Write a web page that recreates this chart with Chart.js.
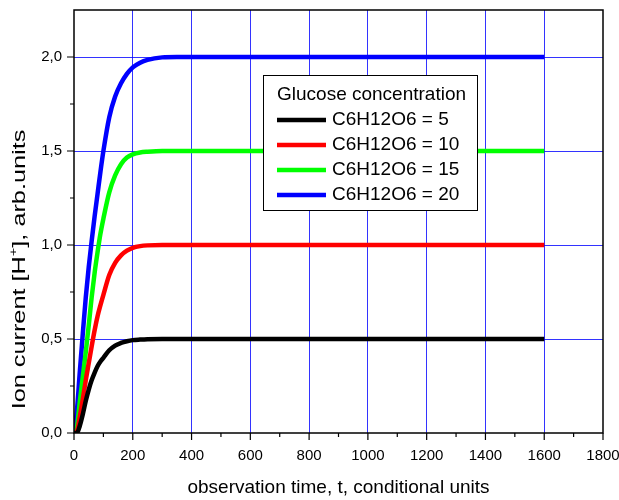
<!DOCTYPE html>
<html>
<head>
<meta charset="utf-8">
<script src="https://cdn.jsdelivr.net/npm/chart.js@4.4.1/dist/chart.umd.min.js"></script>
<style>
  html, body { margin:0; padding:0; background:#fff; }
  #wrap { width:619px; height:500px; }
</style>
</head>
<body>
<div id="wrap"><canvas id="chart-glucose"></canvas></div>
<script>
// ─── Data ─────────────────────────────────────────────────────────────────────
const TIME = [0, 10, 20, 30, 40, 50, 60, 70, 80, 90, 100, 120, 140, 160, 180, 200, 225, 250, 300, 350, 400, 500, 600, 800, 1000, 1200, 1400, 1600];

const C5  = [0, 0.00, 0.04, 0.10, 0.17, 0.23, 0.28, 0.32, 0.355, 0.38, 0.40, 0.44, 0.465, 0.479, 0.488, 0.494, 0.497, 0.499, 0.5, 0.5, 0.5, 0.5, 0.5, 0.5, 0.5, 0.5, 0.5, 0.5];
const C10 = [0, 0.01, 0.09, 0.18, 0.28, 0.37, 0.46, 0.545, 0.62, 0.68, 0.735, 0.84, 0.905, 0.945, 0.97, 0.985, 0.994, 0.998, 1.0, 1.0, 1.0, 1.0, 1.0, 1.0, 1.0, 1.0, 1.0, 1.0];
const C15 = [0, 0.03, 0.17, 0.30, 0.43, 0.57, 0.72, 0.85, 0.96, 1.06, 1.14, 1.28, 1.37, 1.43, 1.465, 1.482, 1.492, 1.496, 1.5, 1.5, 1.5, 1.5, 1.5, 1.5, 1.5, 1.5, 1.5, 1.5];
const C20 = [0, 0.12, 0.33, 0.53, 0.72, 0.88, 1.02, 1.15, 1.27, 1.39, 1.50, 1.68, 1.79, 1.86, 1.91, 1.945, 1.97, 1.985, 1.998, 2.0, 2.0, 2.0, 2.0, 2.0, 2.0, 2.0, 2.0, 2.0];

const SERIES_LABELS = ['C6H12O6 = 5', 'C6H12O6 = 10', 'C6H12O6 = 15', 'C6H12O6 = 20'];
const SERIES_VALUES = [C5, C10, C15, C20];
const SERIES_COLORS = ['#000000', '#ff0000', '#00ff00', '#0000ff'];
const LEGEND_TITLE = 'Glucose concentration';
const X_TITLE = 'observation time, t, conditional units';
const Y_TITLE = ['Ion current [H', '+', '], arb.units'];

const X_MIN = 0, X_MAX = 1800, X_STEP = 100, X_LABEL_STEP = 200;
const Y_MIN = 0, Y_MAX = 2.25, Y_STEP = 0.25, Y_LABEL_STEP = 0.5;

// ─── Style ────────────────────────────────────────────────────────────────────
const FONT = "'Liberation Sans', Arial, sans-serif";
const GRID_BLUE = 'rgba(0,0,255,0.8)';

// frame round the plot plus outward tick marks (long = labelled, short = minor)
const frameTicks = {
  id: 'frameTicks',
  afterDraw(chart) {
    const { ctx, chartArea: a, scales: { x, y } } = chart;
    ctx.save();
    ctx.strokeStyle = '#000';
    ctx.lineWidth = 1.5;
    ctx.strokeRect(a.left, a.top, a.right - a.left, a.bottom - a.top);
    ctx.lineWidth = 1.2;
    ctx.beginPath();
    x.ticks.forEach(t => {
      const px = x.getPixelForValue(t.value);
      const len = t.value % X_LABEL_STEP === 0 ? 7 : 4;
      ctx.moveTo(px, a.bottom); ctx.lineTo(px, a.bottom + len);
    });
    y.ticks.forEach(t => {
      if (t.value >= Y_MAX) return;
      const py = y.getPixelForValue(t.value);
      const len = t.value % Y_LABEL_STEP === 0 ? 7 : 4;
      ctx.moveTo(a.left, py); ctx.lineTo(a.left - len, py);
    });
    ctx.stroke();
    ctx.restore();
  }
};

// rotated y title, stretched along its length, with a raised "+"
const yTitle = {
  id: 'yTitle',
  afterDraw(chart) {
    const { ctx, chartArea: a } = chart;
    const [pre, sup, post] = Y_TITLE;
    ctx.save();
    ctx.translate(20, (a.top + a.bottom) / 2 + 48);
    ctx.rotate(-Math.PI / 2);
    ctx.scale(1.33, 1);
    ctx.fillStyle = '#000';
    ctx.textBaseline = 'middle';
    ctx.font = `19px ${FONT}`;
    const w1 = ctx.measureText(pre).width;
    const w3 = ctx.measureText(post).width;
    ctx.font = `11px ${FONT}`;
    const w2 = ctx.measureText(sup).width;
    let x0 = -(w1 + w2 + w3) / 2;
    ctx.font = `19px ${FONT}`;
    ctx.fillText(pre, x0, 0);
    ctx.font = `11px ${FONT}`;
    ctx.fillText(sup, x0 + w1, -6);
    ctx.font = `19px ${FONT}`;
    ctx.fillText(post, x0 + w1 + w2, 0);
    ctx.restore();
  }
};

// boxed legend sitting inside the plot area
const insideLegend = {
  id: 'insideLegend',
  afterDraw(chart) {
    const { ctx, chartArea: a } = chart;
    const bx = a.left + 189, by = a.top + 65, bw = 214, bh = 135;
    ctx.save();
    ctx.fillStyle = '#fff';
    ctx.fillRect(bx, by, bw, bh);
    ctx.strokeStyle = '#000';
    ctx.lineWidth = 1;
    ctx.strokeRect(bx + 0.5, by + 0.5, bw, bh);
    ctx.font = `19px ${FONT}`;
    ctx.fillStyle = '#000';
    ctx.textBaseline = 'middle';
    ctx.fillText(LEGEND_TITLE, bx + 14, by + 20);
    chart.data.datasets.forEach((ds, i) => {
      const cy = by + 45 + i * 25;
      ctx.strokeStyle = ds.borderColor;
      ctx.lineWidth = 4.5;
      ctx.beginPath();
      ctx.moveTo(bx + 14, cy); ctx.lineTo(bx + 63, cy);
      ctx.stroke();
      ctx.fillText(ds.label, bx + 69, cy);
    });
    ctx.restore();
  }
};

function renderGlucose() {
  const ctx = document.getElementById('chart-glucose').getContext('2d');
  new Chart(ctx, {
    type: 'line',
    data: {
      datasets: SERIES_VALUES.map((vals, i) => ({
        label: SERIES_LABELS[i],
        data: vals.map((v, j) => ({ x: TIME[j], y: v })),
        borderColor: SERIES_COLORS[i],
        borderWidth: 4.5,
        pointRadius: 0,
        cubicInterpolationMode: 'monotone',
        fill: false,
      }))
    },
    options: {
      responsive: true,
      maintainAspectRatio: false,
      animation: false,
      layout: { padding: { top: 10, right: 16, left: 0, bottom: 0 } },
      plugins: { legend: { display: false }, tooltip: { enabled: false } },
      scales: {
        x: {
          type: 'linear', min: X_MIN, max: X_MAX,
          afterFit: s => { s.height = 67; s.paddingLeft = 0; s.paddingRight = 0; },
          ticks: {
            stepSize: X_STEP, autoSkip: false, maxRotation: 0, padding: 14,
            color: '#000', font: { family: FONT, size: 15 },
            callback: v => v % X_LABEL_STEP === 0 ? String(v) : ''
          },
          grid: {
            drawTicks: false, lineWidth: 1,
            color: c => (c.tick && c.tick.value % X_LABEL_STEP === 0 && c.tick.value > X_MIN && c.tick.value < X_MAX) ? GRID_BLUE : 'rgba(0,0,0,0)'
          },
          border: { display: false },
          title: {
            display: true, text: X_TITLE,
            color: '#000', font: { family: FONT, size: 19 }, padding: { top: 0, bottom: 1 }
          }
        },
        y: {
          min: Y_MIN, max: Y_MAX,
          afterFit: s => { s.width = 74; s.paddingTop = 0; s.paddingBottom = 0; },
          ticks: {
            stepSize: Y_STEP, autoSkip: false, padding: 12,
            color: '#000', font: { family: FONT, size: 15 },
            callback: v => v % Y_LABEL_STEP === 0 ? v.toFixed(1).replace('.', ',') : ''
          },
          grid: {
            drawTicks: false, lineWidth: 1,
            color: c => (c.tick && c.tick.value % Y_LABEL_STEP === 0 && c.tick.value > Y_MIN && c.tick.value < Y_MAX) ? GRID_BLUE : 'rgba(0,0,0,0)'
          },
          border: { display: false },
          title: { display: false }
        }
      }
    },
    plugins: [frameTicks, yTitle, insideLegend]
  });
}

renderGlucose();
</script>
</body>
</html>
